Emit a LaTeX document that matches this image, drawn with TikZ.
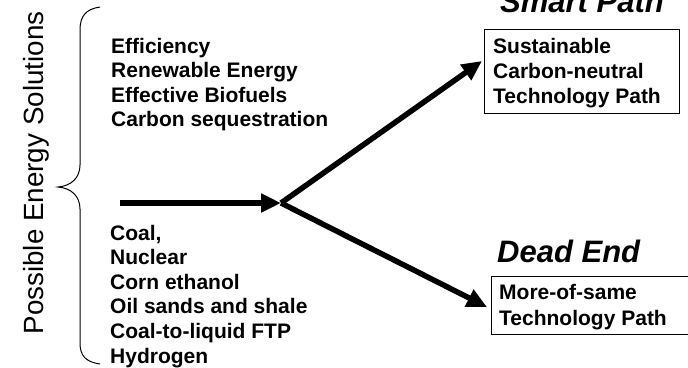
\documentclass[tikz,border=0pt]{standalone}
\usepackage{fontspec}
\setmainfont{Liberation Sans}
\usetikzlibrary{arrows.meta,calc}
\begin{document}
\begin{tikzpicture}[x=1pt,y=-1pt,
  item/.style={font=\fontsize{21}{25}\selectfont\bfseries, anchor=base west, inner sep=0pt},
  heading/.style={font=\fontsize{31}{36}\selectfont\bfseries\itshape, anchor=base west, inner sep=0pt},
  pathbox/.style={draw, line width=1pt, anchor=north west, inner sep=0pt},
  flow/.style={line width=5.5pt, -{Triangle[length=20pt,width=18pt]}},
  bracepen/.style={line width=1pt}]
\useasboundingbox (0,0) rectangle (688,367);

% side label and brace
\node[rotate=90, anchor=base, inner sep=0pt, font=\fontsize{27.8}{32}\selectfont] (label) at (43,173) {Possible Energy Solutions};
\draw[bracepen] (100,7) .. controls (86,9) and (80,16) .. (80,30) -- (80,165)
  .. controls (80,178) and (71,186) .. (58,187)
  .. controls (71,188) and (80,196) .. (80,209) -- (80,343)
  .. controls (80,356) and (86,362) .. (100,364);

% option lists
\foreach \t [count=\i from 0] in {Efficiency, Renewable Energy, Effective Biofuels, Carbon sequestration}
  \node[item] (good\i) at (111,53+24.6*\i) {\t};
\foreach \t [count=\i from 0] in {{Coal,}, Nuclear, Corn ethanol, Oil sands and shale, Coal-to-liquid FTP, Hydrogen}
  \node[item] (bad\i) at (110,240+24.6*\i) {\t};

% outcome boxes
\node[pathbox, minimum width=195pt, minimum height=84pt] (smart) at (484,29) {};
\node[item] (smart1) at (493,53) {Sustainable};
\node[item] (smart2) at (493,78) {Carbon-neutral};
\node[item] (smart3) at (493,103) {Technology Path};
\node[heading] (smarttitle) at (500,12) {Smart Path};

\node[pathbox, minimum width=215pt, minimum height=58pt] (dead) at (491,276) {};
\node[item] (dead1) at (499,299) {More-of-same};
\node[item] (dead2) at (499,325) {Technology Path};
\node[heading] (deadtitle) at (497,262) {Dead End};

% arrows
\coordinate (start) at (120,203);
\coordinate (fork) at (281,203);
\coordinate (tipS) at (482,61);
\coordinate (tipD) at (487,307);
\draw[flow] (start) -- (fork);
\draw[flow] (fork) -- (tipS);
\draw[flow] (fork) -- (tipD);
\end{tikzpicture}
\end{document}
